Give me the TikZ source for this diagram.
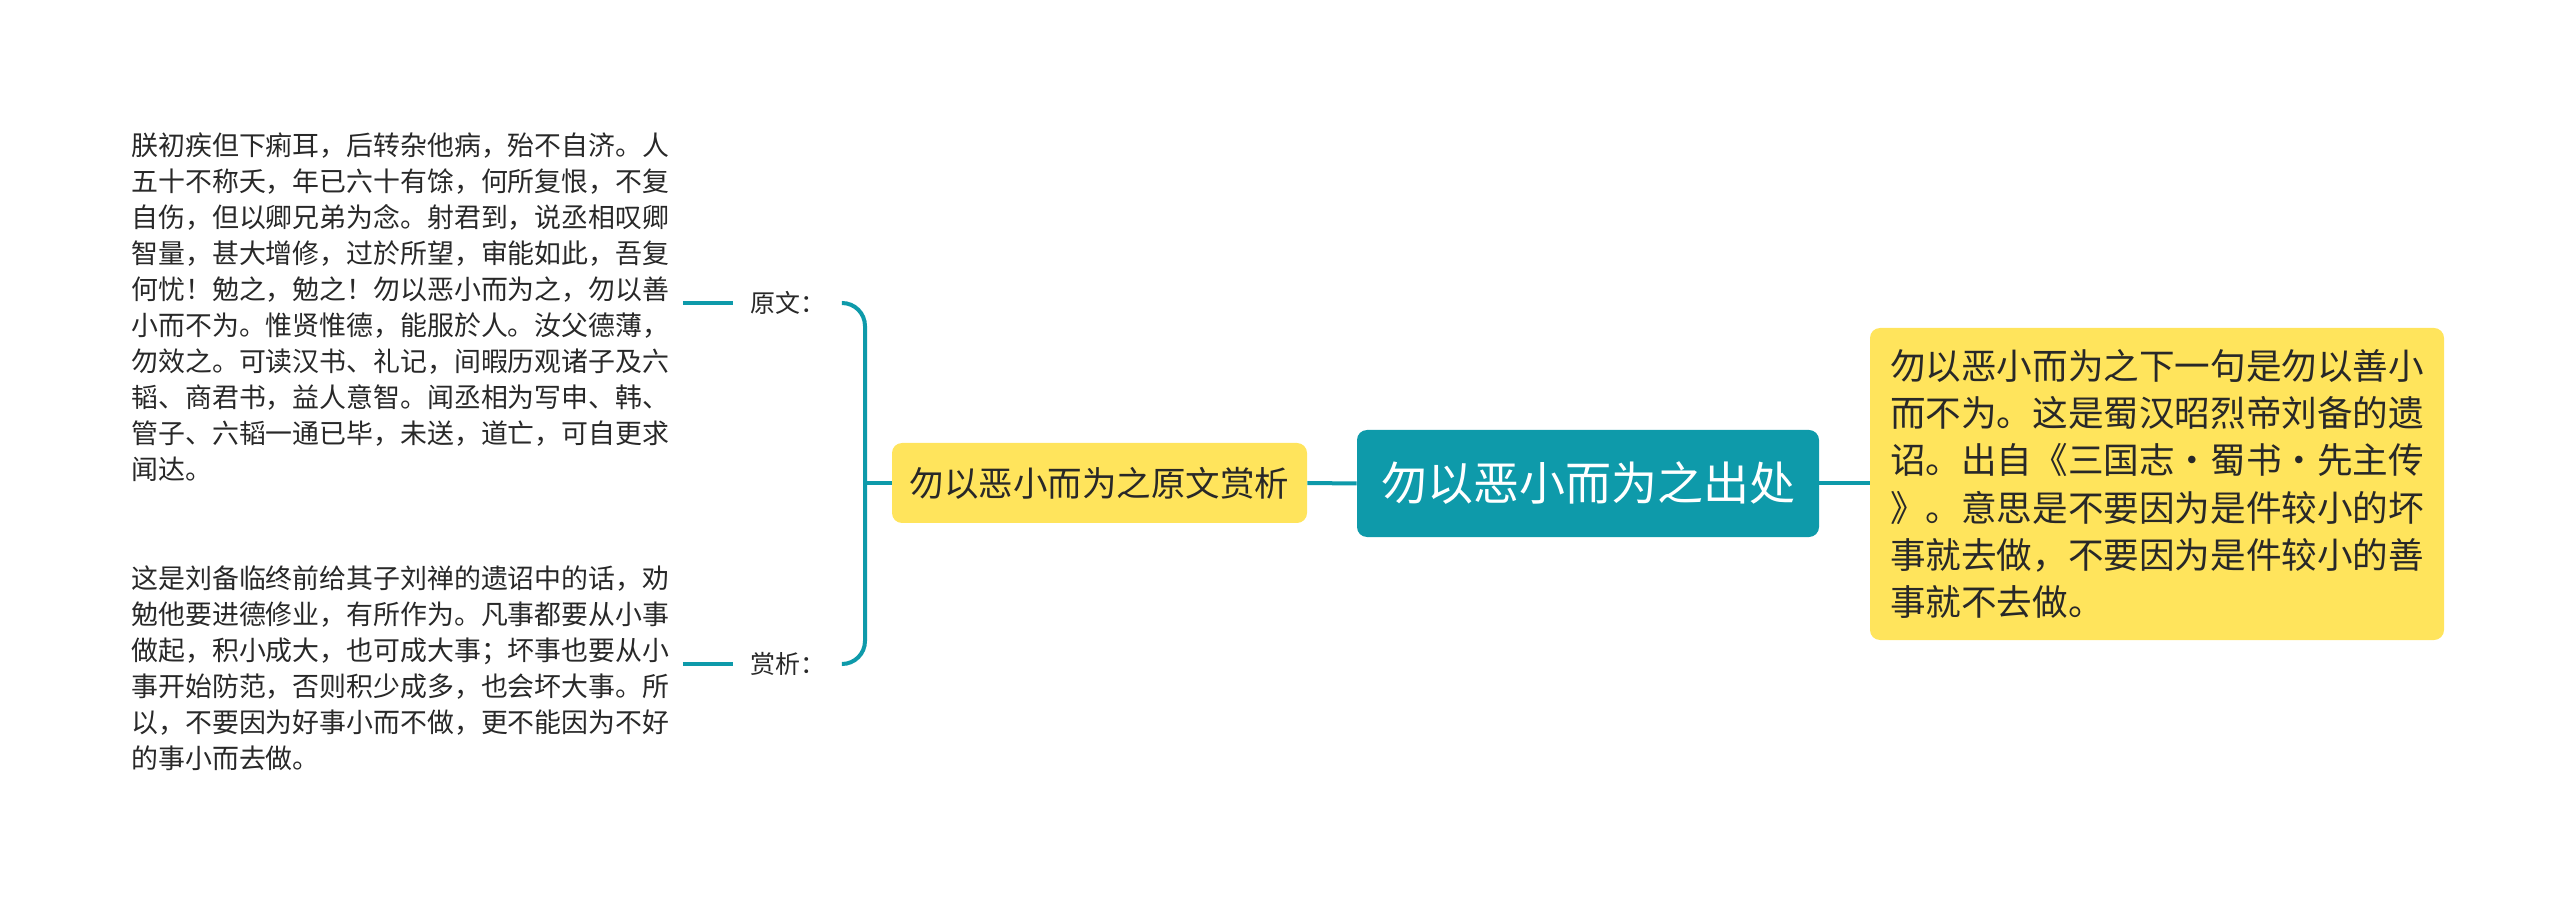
\documentclass[tikz,border=0pt]{standalone}
\usepackage{fontspec}
\newfontfamily\cjk{Noto Sans CJK SC}
\definecolor{teal1}{RGB}{14,154,170}
\definecolor{yel}{RGB}{255,228,92}
\definecolor{ink}{RGB}{40,40,40}
\newcommand{\mdot}{\makebox[1em]{·}}
\begin{document}
\begin{tikzpicture}[x=0.5pt,y=-0.5pt,
  link/.style={draw=teal1, line width=2pt},
  rootbox/.style={fill=teal1, rounded corners=5pt, inner sep=0pt, minimum width=231pt, minimum height=53.5pt, text=white, font=\cjk\fontsize{23pt}{28pt}\selectfont},
  ybox/.style={fill=yel, rounded corners=5pt, inner sep=0pt, text=ink},
  lab/.style={inner sep=0pt, minimum width=54.5pt, text=ink, font=\cjk\fontsize{12.5pt}{15pt}\selectfont},
  body/.style={anchor=west, align=left, inner xsep=6.5pt, inner ysep=0pt, text=ink, font=\cjk\fontsize{13.45pt}{18pt}\selectfont}]
\useasboundingbox (0,0) rectangle (2560,898);

\node[rootbox] (root) at (1588,483.5) {勿以恶小而为之出处};
\node[ybox, minimum width=207.5pt, minimum height=40pt, font=\cjk\fontsize{17.25pt}{21pt}\selectfont] (b1) at (1099.5,483) {勿以恶小而为之原文赏析};
\node[ybox, minimum width=287pt, minimum height=156pt, align=left, font=\cjk\fontsize{17.8pt}{23.6pt}\selectfont] (r1) at (2157,484) {勿以恶小而为之下一句是勿以善小\\而不为。这是蜀汉昭烈帝刘备的遗\\诏。出自《三国志\mdot 蜀书\mdot 先主传\\》。意思是不要因为是件较小的坏\\事就去做，不要因为是件较小的善\\事就不去做。};

\node[lab] (lab1) at (787.5,303) {原文：};
\node[lab] (lab2) at (787.5,664) {赏析：};

\node[body] (t1) at (118,307) {朕初疾但下痢耳，后转杂他病，殆不自济。人\\五十不称夭，年已六十有馀，何所复恨，不复\\自伤，但以卿兄弟为念。射君到，说丞相叹卿\\智量，甚大增修，过於所望，审能如此，吾复\\何忧！勉之，勉之！勿以恶小而为之，勿以善\\小而不为。惟贤惟德，能服於人。汝父德薄，\\勿效之。可读汉书、礼记，间暇历观诸子及六\\韬、商君书，益人意智。闻丞相为写申、韩、\\管子、六韬一通已毕，未送，道亡，可自更求\\闻达。};
\node[body] (t2) at (118,668) {这是刘备临终前给其子刘禅的遗诏中的话，劝\\勉他要进德修业，有所作为。凡事都要从小事\\做起，积小成大，也可成大事；坏事也要从小\\事开始防范，否则积少成多，也会坏大事。所\\以，不要因为好事小而不做，更不能因为不好\\的事小而去做。};

\coordinate (bj) at (865,483);
\draw[link] (root.west) -- (b1.east);
\draw[link] (root.east) -- (r1.west |- root.east);
\draw[link] (b1.west) -- (bj);
\draw[link, rounded corners=11.5pt] (lab1.east) -- (lab1.east -| bj) -- (lab2.east -| bj) -- (lab2.east);
\draw[link] (lab1.west -| t1.east) -- (lab1.west);
\draw[link] (lab2.west -| t2.east) -- (lab2.west);
\end{tikzpicture}
\end{document}
